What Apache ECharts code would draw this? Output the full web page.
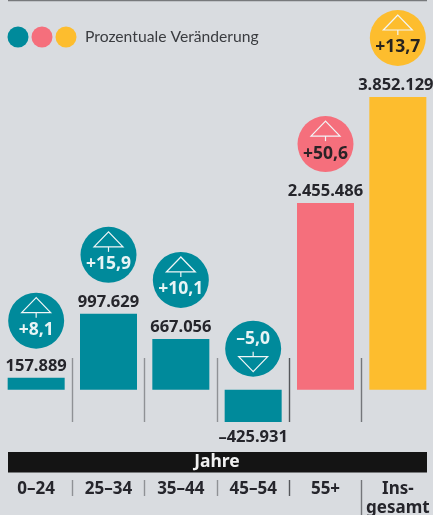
<!DOCTYPE html>
<html>
<head>
<meta charset="utf-8">
<style>html,body{margin:0;padding:0;background:#d9dce0;overflow:hidden}#c{width:433px;height:515px}</style>
<script src="https://cdn.jsdelivr.net/npm/echarts@6/dist/echarts.min.js"></script>
</head>
<body>
<div id="c"></div>
<script>
// Bevölkerungsveränderung nach Altersgruppen
const categories = ['0–24', '25–34', '35–44', '45–54', '55+', 'Ins-\ngesamt'];
const values = [157889, 997629, 667056, -425931, 2455486, 3852129];
const changes = ['+8,1', '+15,9', '+10,1', '–5,0', '+50,6', '+13,7'];
const valueLabels = ['157.889', '997.629', '667.056', '–425.931', '2.455.486', '3.852.129'];
const barColors = ['#008a9b', '#008a9b', '#008a9b', '#008a9b', '#f56f7c', '#fdbd2e'];
const changeTextColors = ['#e8f4f5', '#e8f4f5', '#e8f4f5', '#e8f4f5', '#2a2326', '#26231f'];
const legendColors = ['#008a9b', '#f56f7c', '#fdbd2e'];
const ruleColors = ['#8f9195', '#8f9195', '#8f9195', '#55575b', '#74767a'];

const FONT = '"Noto Sans", "Open Sans", sans-serif';
const INK = '#25252b';

const chart = echarts.init(document.getElementById('c'), null, { renderer: 'canvas' });

const plainAxis = (gridIndex) => ({
  type: 'category', gridIndex, data: categories,
  axisLine: { show: false }, axisTick: { show: false }, axisLabel: { show: false },
  splitLine: { show: true, showMinLine: false, showMaxLine: false, lineStyle: { color: ruleColors, width: 1.4 } }
});
const plainY = (gridIndex) => ({ type: 'value', gridIndex, show: false, splitLine: { show: false } });

// Kreis mit Pfeil und prozentualer Veränderung über dem jeweiligen Balken
function renderBubble(params, api) {
  const i = api.value(0);
  const v = api.value(1);
  const top = api.coord([i, Math.max(v, 0)]);
  const cx = top[0];
  const up = v >= 0;
  const cy = up ? top[1] - (i === 0 ? 57 : 59) : top[1] - 41;
  const dir = up ? -1 : 1;
  const white = { stroke: '#f2f6f7', fill: null, lineWidth: 1.2 };
  return {
    type: 'group',
    children: [
      { type: 'circle', shape: { cx, cy, r: 28 }, style: { fill: barColors[i] } },
      { type: 'polygon', shape: { points: [[cx, cy + dir * 23], [cx - 14.5, cy + dir * 8], [cx + 14.5, cy + dir * 8]] }, style: white },
      { type: 'line', shape: { x1: cx, y1: cy + dir * 8, x2: cx, y2: cy + dir * 3 }, style: white },
      {
        type: 'text',
        style: {
          x: cx, y: cy - dir * 9.5, text: changes[i],
          fill: changeTextColors[i], font: 'bold 17.5px ' + FONT,
          textAlign: 'center', textVerticalAlign: 'middle'
        }
      }
    ]
  };
}

chart.setOption({
  animation: false,
  backgroundColor: '#d9dce0',
  grid: [
    { left: 0, width: 434, top: 97, height: 325, outerBoundsMode: 'none' },
    { left: 0, width: 434, top: 358, height: 64, outerBoundsMode: 'none' },
    { left: 0, width: 434, top: 480, height: 16, outerBoundsMode: 'none' }
  ],
  xAxis: [
    {
      type: 'category', gridIndex: 0, data: categories,
      axisLine: { show: false }, axisTick: { show: false }, splitLine: { show: false },
      position: 'bottom',
      axisLabel: {
        show: true, interval: 0, margin: 58, color: INK,
        fontFamily: FONT, fontWeight: 'bold', fontSize: 17, lineHeight: 19, verticalAlign: 'top'
      }
    },
    plainAxis(1),
    plainAxis(2)
  ],
  yAxis: [
    { type: 'value', gridIndex: 0, min: -425931, max: 3852129, show: false, splitLine: { show: false } },
    plainY(1),
    plainY(2)
  ],
  series: [
    {
      type: 'bar', xAxisIndex: 0, yAxisIndex: 0, barWidth: 57,
      data: values.map((v, i) => ({
        value: v,
        itemStyle: { color: barColors[i] },
        label: {
          show: true, position: v >= 0 ? 'top' : 'bottom', distance: v >= 0 ? 3 : 7,
          offset: i === 5 ? [-2, 0] : [0, 0],
          formatter: valueLabels[i], color: INK,
          fontFamily: FONT, fontWeight: 'bold', fontSize: 16.5
        }
      }))
    },
    {
      type: 'custom', xAxisIndex: 0, yAxisIndex: 0, renderItem: renderBubble,
      clip: false, silent: true, z: 5,
      data: values.map((v, i) => [i, v])
    }
  ],
  graphic: [
    { type: 'line', shape: { x1: 8, y1: 0.5, x2: 427, y2: 0.5 }, style: { stroke: '#77797c', lineWidth: 1.5 } },
    ...legendColors.map((c, i) => ({ type: 'circle', shape: { cx: 18 + i * 24, cy: 37, r: 10.5 }, style: { fill: c } })),
    { type: 'text', style: { x: 85, y: 36.5, text: 'Prozentuale Veränderung', fill: '#3a3c40', font: '15.7px Lato, ' + FONT, textVerticalAlign: 'middle' } },
    { type: 'rect', shape: { x: 8, y: 452, width: 419, height: 20.5 }, style: { fill: '#141414' } },
    { type: 'text', style: { x: 217, y: 462, text: 'Jahre', fill: '#f1f1f1', font: 'bold 17.5px ' + FONT, textAlign: 'center', textVerticalAlign: 'middle' } },
    { type: 'line', shape: { x1: 361.5, y1: 496, x2: 361.5, y2: 515 }, style: { stroke: '#74767a', lineWidth: 1.4 } }
  ]
});
</script>
</body>
</html>
